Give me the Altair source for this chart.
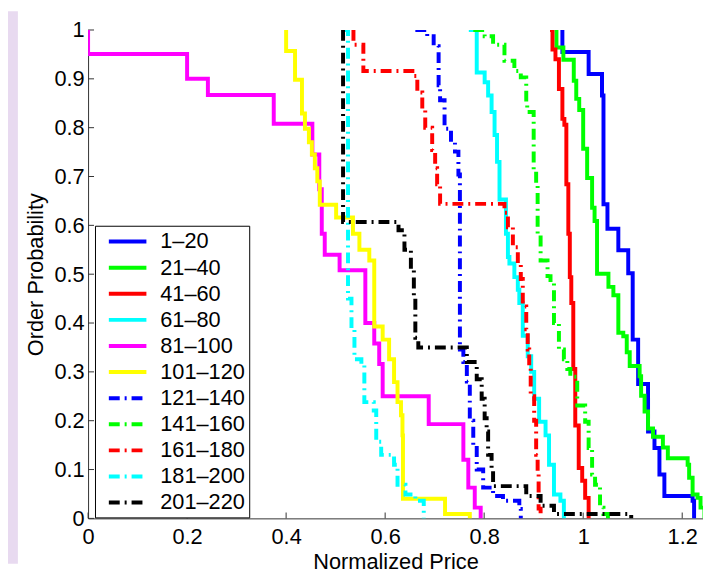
import altair as alt
import pandas as pd

# ---------------- data ----------------
SERIES = ["1–20", "21–40", "41–60", "61–80", "81–100", "101–120",
          "121–140", "141–160", "161–180", "181–200", "201–220"]
COLORS = ["#0000ff", "#00ff00", "#ff0000", "#00ffff", "#ff00ff", "#ffff00",
          "#0000ff", "#00ff00", "#ff0000", "#00ffff", "#000000"]
SOLID = [1, 0]
DASHDOT = [11, 5, 2, 5]
DASHES = [SOLID] * 6 + [DASHDOT] * 5

X_1_20 = [0.958, 0.958, 1.011, 1.038, 1.041, 1.049, 1.071, 1.091, 1.100, 1.111, 1.131, 1.144, 1.154, 1.164, 1.221, 1.224]
Y_1_20 = [1.0, 0.955, 0.910, 0.866, 0.643, 0.593, 0.549, 0.502, 0.366, 0.275, 0.178, 0.144, 0.090, 0.046, 0.036, 0.0]

X_21_40 = [0.946, 0.946, 0.960, 0.981, 0.986, 0.992, 1.000, 1.008, 1.018, 1.023, 1.028, 1.051, 1.061, 1.071, 1.081,
           1.088, 1.094, 1.114, 1.117, 1.124, 1.131, 1.141, 1.161, 1.171, 1.211, 1.214, 1.221, 1.231, 1.237, 1.245]
Y_21_40 = [1.0, 0.964, 0.939, 0.896, 0.859, 0.836, 0.757, 0.697, 0.636, 0.609, 0.501, 0.474, 0.457, 0.380, 0.373,
           0.340, 0.312, 0.291, 0.251, 0.219, 0.184, 0.167, 0.145, 0.123, 0.110, 0.083, 0.049, 0.042, 0.022, 0.0]

X_41_60 = [0.933, 0.938, 0.944, 0.951, 0.951, 0.958, 0.958, 0.962, 0.966, 0.966, 0.970, 0.970, 0.973, 0.973,
           0.976, 0.980, 0.980, 0.984, 0.984, 0.991, 0.991, 0.998, 1.004, 1.004, 1.011, 1.011]
Y_41_60 = [1.0, 0.960, 0.940, 0.913, 0.879, 0.866, 0.818, 0.806, 0.798, 0.684, 0.676, 0.583, 0.575, 0.494,
           0.441, 0.420, 0.306, 0.271, 0.190, 0.138, 0.103, 0.077, 0.057, 0.042, 0.022, 0.0]

X_61_80 = [0.769, 0.785, 0.785, 0.801, 0.808, 0.815, 0.821, 0.826, 0.831, 0.844, 0.848, 0.851, 0.861, 0.868,
           0.871, 0.878, 0.888, 0.895, 0.901, 0.911, 0.924, 0.931, 0.941, 0.954, 0.961]
Y_61_80 = [1.0, 0.980, 0.913, 0.893, 0.866, 0.832, 0.785, 0.730, 0.653, 0.583, 0.535, 0.522, 0.494, 0.468,
           0.441, 0.374, 0.332, 0.300, 0.245, 0.198, 0.170, 0.110, 0.049, 0.036, 0.0]

X_81_100 = [0.0, 0.0, 0.200, 0.242, 0.375, 0.453, 0.467, 0.472, 0.478, 0.508, 0.560, 0.578, 0.588, 0.595,
            0.688, 0.758, 0.768, 0.781, 0.793]
Y_81_100 = [1.0, 0.951, 0.900, 0.867, 0.808, 0.745, 0.674, 0.583, 0.540, 0.508, 0.400, 0.358, 0.316, 0.250,
            0.193, 0.120, 0.063, 0.022, 0.0]

X_101_120 = [0.400, 0.400, 0.418, 0.432, 0.438, 0.446, 0.452, 0.458, 0.463, 0.468, 0.501, 0.535, 0.548, 0.568,
             0.578, 0.595, 0.608, 0.618, 0.625, 0.632, 0.635, 0.636, 0.721, 0.771]
Y_101_120 = [1.0, 0.957, 0.898, 0.829, 0.798, 0.770, 0.745, 0.717, 0.690, 0.642, 0.616, 0.583, 0.550, 0.528,
             0.393, 0.366, 0.326, 0.279, 0.238, 0.211, 0.170, 0.040, 0.009, 0.0]

X_121_140 = [0.661, 0.685, 0.698, 0.708, 0.708, 0.711, 0.720, 0.720, 0.733, 0.741, 0.748, 0.748, 0.751, 0.751,
             0.758, 0.765, 0.771, 0.778, 0.785, 0.798, 0.818, 0.838, 0.871, 0.874]
Y_121_140 = [1.0, 0.987, 0.967, 0.953, 0.887, 0.856, 0.839, 0.798, 0.771, 0.751, 0.725, 0.704, 0.684, 0.346,
             0.320, 0.280, 0.200, 0.150, 0.100, 0.063, 0.046, 0.036, 0.019, 0.0]

X_141_160 = [0.778, 0.801, 0.818, 0.841, 0.861, 0.874, 0.885, 0.887, 0.900, 0.905, 0.908, 0.914, 0.928, 0.934,
             0.941, 0.951, 0.961, 0.968, 0.974, 0.988, 1.004, 1.011, 1.018, 1.024, 1.034, 1.041, 1.050]
Y_141_160 = [1.0, 0.987, 0.970, 0.937, 0.916, 0.903, 0.852, 0.832, 0.710, 0.684, 0.583, 0.528, 0.496, 0.482,
             0.400, 0.346, 0.326, 0.306, 0.290, 0.231, 0.198, 0.144, 0.090, 0.069, 0.022, 0.009, 0.0]

X_161_180 = [0.536, 0.536, 0.556, 0.655, 0.665, 0.675, 0.681, 0.695, 0.701, 0.705, 0.711, 0.841, 0.848, 0.858,
             0.868, 0.874, 0.878, 0.885, 0.888, 0.891, 0.894, 0.901, 0.905, 0.908, 0.910, 0.914]
Y_161_180 = [1.0, 0.970, 0.916, 0.906, 0.872, 0.839, 0.800, 0.754, 0.717, 0.684, 0.644, 0.626, 0.596, 0.555,
             0.520, 0.490, 0.434, 0.387, 0.346, 0.310, 0.250, 0.200, 0.130, 0.090, 0.020, 0.0]

X_181_200 = [0.515, 0.525, 0.525, 0.532, 0.538, 0.552, 0.558, 0.577, 0.582, 0.592, 0.618, 0.625, 0.641, 0.661, 0.678]
Y_181_200 = [1.0, 0.960, 0.450, 0.387, 0.326, 0.316, 0.238, 0.221, 0.157, 0.130, 0.110, 0.069, 0.049, 0.036, 0.0]

X_201_220 = [0.515, 0.515, 0.627, 0.639, 0.652, 0.658, 0.661, 0.667, 0.765, 0.785, 0.795, 0.801, 0.805, 0.808,
             0.815, 0.818, 0.885, 0.914, 0.941, 1.097]
Y_201_220 = [1.0, 0.607, 0.590, 0.550, 0.510, 0.450, 0.370, 0.350, 0.320, 0.285, 0.245, 0.205, 0.178, 0.130,
             0.100, 0.066, 0.046, 0.026, 0.009, 0.0]

X_TICKS = [0, 0.2, 0.4, 0.6, 0.8, 1.0, 1.2]
Y_TICKS = [0, 0.1, 0.2, 0.3, 0.4, 0.5, 0.6, 0.7, 0.8, 0.9, 1.0]

SERIES_XY = [
    (X_1_20, Y_1_20), (X_21_40, Y_21_40), (X_41_60, Y_41_60), (X_61_80, Y_61_80),
    (X_81_100, Y_81_100), (X_101_120, Y_101_120), (X_121_140, Y_121_140),
    (X_141_160, Y_141_160), (X_161_180, Y_161_180), (X_181_200, Y_181_200),
    (X_201_220, Y_201_220),
]

# ---------------- build tables ----------------
rows = []
k = 0
for name, (xs, ys) in zip(SERIES, SERIES_XY):
    for xv, yv in zip(xs, ys):
        rows.append({"series": name, "x": xv, "y": yv, "idx": k})
        k += 1
df = pd.DataFrame(rows)

X_MAX = 1.242
TICK_LEN_X = 0.012
TICK_LEN_Y = 0.012
xt = pd.DataFrame({"x": X_TICKS, "y0": 0.0, "y1": TICK_LEN_X})
yt = pd.DataFrame({"y": Y_TICKS, "x0": 0.0, "x1": TICK_LEN_Y})

FONT = "Liberation Sans"
FS = 22

x_scale = alt.Scale(domain=[0, X_MAX], nice=False, zero=False)
y_scale = alt.Scale(domain=[0, 1], nice=False, zero=False)

legend = alt.Legend(
    title=None, orient="none", legendX=7, legendY=198,
    symbolType="M-1.9,0H1.9", symbolSize=400, symbolStrokeWidth=4,
    labelFont=FONT, labelFontSize=FS, labelColor="#000000",
    labelOffset=21, padding=4, rowPadding=3.4, symbolOffset=17,
    fillColor="#ffffff", strokeColor="#000000",
    labelExpr="datum.label + '\u00a0\u00a0\u00a0'",
)

strip = alt.Chart(pd.DataFrame({"a": [0]})).mark_rect(color="#e8daf0").encode(
    x=alt.value(-81), x2=alt.value(-71), y=alt.value(-19), y2=alt.value(540)
)

lines = alt.Chart(df).mark_line(
    interpolate="step-after", strokeWidth=4, clip=True, strokeCap="butt", strokeJoin="miter"
).encode(
    x=alt.X("x:Q", scale=x_scale,
            axis=alt.Axis(values=X_TICKS, format="~g", title="Normalized Price",
                          labelPadding=8, titleY=51, titleBaseline="alphabetic")),
    y=alt.Y("y:Q", scale=y_scale,
            axis=alt.Axis(values=Y_TICKS, format="~g", title="Order Probability",
                          labelPadding=4, titleX=-46, titleY=247, titleAngle=270,
                          titleBaseline="alphabetic", titleAlign="center")),
    color=alt.Color("series:N", scale=alt.Scale(domain=SERIES, range=COLORS), sort=SERIES, legend=legend),
    strokeDash=alt.StrokeDash("series:N", scale=alt.Scale(domain=SERIES, range=DASHES), sort=SERIES, legend=legend),
    order=alt.Order("idx:Q"),
)

xticks = alt.Chart(xt).mark_rule(color="#333333", strokeWidth=1).encode(
    x=alt.X("x:Q", scale=x_scale), y=alt.Y("y0:Q", scale=y_scale), y2="y1:Q"
)
yticks = alt.Chart(yt).mark_rule(color="#333333", strokeWidth=1).encode(
    y=alt.Y("y:Q", scale=y_scale), x=alt.X("x0:Q", scale=x_scale), x2="x1:Q"
)

chart = alt.layer(strip, xticks, yticks, lines).properties(
    width=622, height=494,
    autosize=alt.AutoSizeParams(type="none"),
    padding={"left": 81, "top": 19, "right": 0, "bottom": 52},
    background="#ffffff",
).configure_view(stroke=None).configure_axis(
    grid=False, ticks=False, tickSize=0, domainColor="#333333", domainWidth=1,
    labelFont=FONT, labelFontSize=FS, labelColor="#000000",
    labelFlush=False, labelOverlap=False, labelBound=False,
    titleFont=FONT, titleFontSize=FS, titleFontWeight="normal", titleColor="#000000",
)

chart.save("out.html", embed_options={"renderer": "svg", "actions": False})
